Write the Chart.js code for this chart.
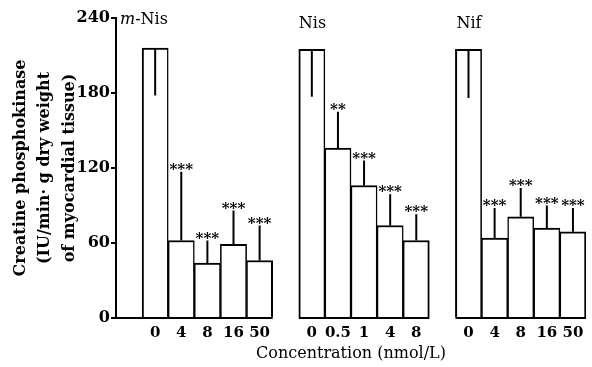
<!DOCTYPE html>
<html><head><meta charset="utf-8">
<script src="https://cdn.jsdelivr.net/npm/chart.js@4/dist/chart.umd.min.js"></script>
<style>html,body{margin:0;padding:0;background:#fff}#wrap{width:592px;height:367px}</style>
</head><body><div id="wrap"><canvas id="c" width="592" height="367"></canvas></div>
<script>
// ---- data ----
const panelNames = ['m-Nis', 'Nis', 'Nif'];
const dosesMNis = ['0', '4', '8', '16', '50'];
const meanMNis  = [216, 62, 44, 59, 46];
const sdMNis    = [38, 55, 18, 27, 28];
const starsMNis = ['', '***', '***', '***', '***'];

const dosesNis = ['0', '0.5', '1', '4', '8'];
const meanNis  = [215, 136, 106, 74, 62];
const sdNis    = [38, 29, 20, 25, 21];
const starsNis = ['', '**', '***', '***', '***'];

const dosesNif = ['0', '4', '8', '16', '50'];
const meanNif  = [215, 64, 81, 72, 69];
const sdNif    = [39, 24, 23, 18, 19];
const starsNif = ['', '***', '***', '***', '***'];

const yTicks = [0, 60, 120, 180, 240];

// ---- build category table (one empty slot before each panel) ----
const labels = [], values = [], sds = [], stars = [], isControl = [], isLast = [];
const panelSlots = [];
[[dosesMNis, meanMNis, sdMNis, starsMNis], [dosesNis, meanNis, sdNis, starsNis], [dosesNif, meanNif, sdNif, starsNif]]
.forEach(([d, m, s, st]) => {
  labels.push(''); values.push(null); sds.push(null); stars.push(''); isControl.push(false); isLast.push(false);
  const start = labels.length;
  d.forEach((lab, i) => {
    labels.push(lab); values.push(m[i]); sds.push(s[i]); stars.push(st[i]);
    isControl.push(i === 0); isLast.push(i === d.length - 1);
  });
  panelSlots.push([start, labels.length - 1]);
});

const FONT = "'DejaVu Serif', serif";

const decor = {
  id: 'decor',
  afterDatasetsDraw(chart) {
    const ctx = chart.ctx, x = chart.scales.x, y = chart.scales.y;
    const w = x.getPixelForValue(1) - x.getPixelForValue(0);
    ctx.save();
    ctx.strokeStyle = '#000'; ctx.fillStyle = '#000';
    // baselines for each panel
    ctx.lineWidth = 2;
    panelSlots.forEach(([a, b], p) => {
      const x0 = p === 0 ? chart.chartArea.left : x.getPixelForValue(a) - w / 2;
      const x1 = x.getPixelForValue(b) + w / 2;
      ctx.beginPath(); ctx.moveTo(x0, y.getPixelForValue(0)); ctx.lineTo(x1, y.getPixelForValue(0)); ctx.stroke();
    });
    // error bars and significance marks
    values.forEach((v, i) => {
      if (v == null) return;
      const cx = x.getPixelForValue(i);
      const yTop = y.getPixelForValue(v);
      const yEnd = y.getPixelForValue(isControl[i] ? v - sds[i] : v + sds[i]);
      ctx.lineWidth = 2;
      ctx.beginPath(); ctx.moveTo(cx, yTop); ctx.lineTo(cx, yEnd); ctx.stroke();
      if (stars[i]) {
        ctx.font = 'bold 15px ' + FONT;
        ctx.textAlign = 'center'; ctx.textBaseline = 'alphabetic';
        ctx.fillText(stars[i], cx, yEnd + 2);
      }
    });
    // panel titles
    ctx.textBaseline = 'middle'; ctx.textAlign = 'left';
    const tx1 = chart.chartArea.left + 4;
    ctx.font = 'italic 16px ' + FONT;
    ctx.fillText('m', tx1, 20);
    const mw = ctx.measureText('m').width;
    ctx.font = '16px ' + FONT;
    ctx.fillText(panelNames[0].slice(1), tx1 + mw, 20);
    ctx.fillText(panelNames[1], x.getPixelForValue(panelSlots[1][0]) - w / 2, 24);
    ctx.fillText(panelNames[2], x.getPixelForValue(panelSlots[2][0]) - w / 2 + 1, 24);
    ctx.restore();
  }
};

new Chart(document.getElementById('c'), {
  type: 'bar',
  data: {
    labels: labels,
    datasets: [{
      data: values,
      backgroundColor: '#fff',
      borderColor: '#000',
      borderWidth: (c) => ({
        top: 2, bottom: 0,
        left: isControl[c.dataIndex] ? 2 : 1.5,
        right: isLast[c.dataIndex] ? 2 : 1.5
      }),
      borderSkipped: false,
      barPercentage: 1,
      categoryPercentage: 1
    }]
  },
  options: {
    responsive: false,
    animation: false,
    events: [],
    layout: { padding: { top: 18, right: 6, left: 0, bottom: 4 } },
    plugins: { legend: { display: false }, tooltip: { enabled: false } },
    scales: {
      x: {
        afterFit: (s) => { s.height = 45; },
        grid: { display: false, drawTicks: false },
        border: { display: false },
        ticks: { autoSkip: false, maxRotation: 0, color: '#000', padding: 6, font: { family: FONT, size: 15, weight: 'bold' } },
        title: { display: true, text: 'Concentration (nmol/L)', color: '#000', padding: { top: 2, bottom: 0 }, font: { family: FONT, size: 16 } }
      },
      y: {
        min: 0, max: 240,
        afterBuildTicks: (s) => { s.ticks = yTicks.map(v => ({ value: v })); },
        afterFit: (s) => { s.width = 116; },
        grid: { drawOnChartArea: false, drawTicks: true, tickLength: 5, color: '#000', lineWidth: 2 },
        border: { display: true, color: '#000', width: 2 },
        ticks: { color: '#000', padding: 1, font: { family: FONT, size: 16, weight: 'bold' } },
        title: { display: true, text: ['Creatine phosphokinase', '(IU/min· g dry weight', 'of myocardial tissue)'], color: '#000', padding: { top: 8, bottom: 0 }, font: { family: FONT, size: 16, weight: 'bold', lineHeight: 1.55 } }
      }
    }
  },
  plugins: [decor]
});
</script></body></html>
